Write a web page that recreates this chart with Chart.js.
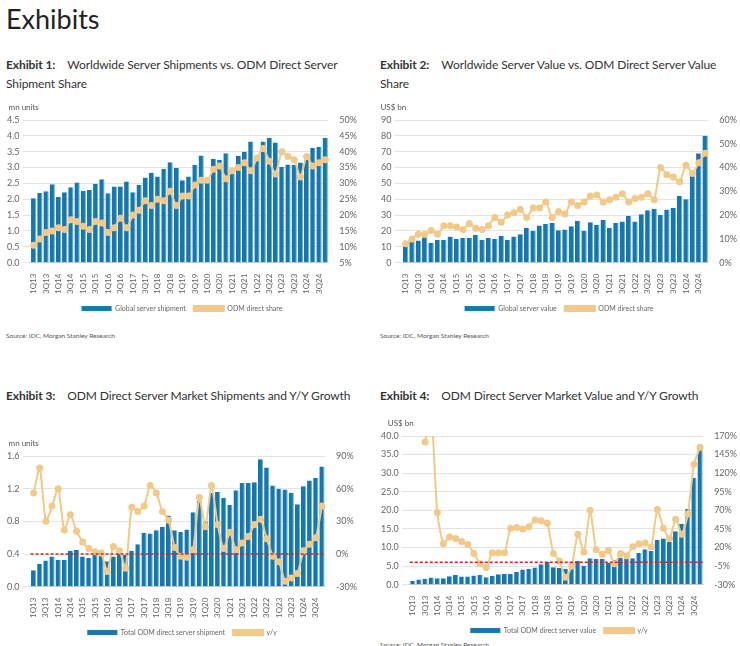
<!DOCTYPE html>
<html><head><meta charset="utf-8">
<script src="https://cdn.jsdelivr.net/npm/chart.js@4"></script>
<style>
body{margin:0;background:#fff;font-family:Lato,"Liberation Sans",sans-serif;width:740px;height:646px;position:relative;overflow:hidden}
h1{position:absolute;left:6px;top:2px;margin:0;font-weight:400;font-size:27px;color:#222}
.t{position:absolute;font-size:12px;color:#333;line-height:19px;letter-spacing:-0.1px}
.t b{margin-right:12px}
.s{position:absolute;font-size:6.5px;color:#555}
.c{position:absolute}
</style></head><body>
<h1>Exhibits</h1>
<div class="t" style="left:6px;top:55px;width:356px"><b>Exhibit 1:</b>Worldwide Server Shipments vs. ODM Direct Server Shipment Share</div>
<div class="t" style="left:380px;top:55px;width:358px"><b>Exhibit 2:</b>Worldwide Server Value vs. ODM Direct Server Value Share</div>
<div class="t" style="left:6px;top:386px;width:356px"><b>Exhibit 3:</b>ODM Direct Server Market Shipments and Y/Y Growth</div>
<div class="t" style="left:380px;top:386px;width:358px"><b>Exhibit 4:</b>ODM Direct Server Market Value and Y/Y Growth</div>
<div class="s" style="left:6px;top:332px">Source: IDC, Morgan Stanley Research</div>
<div class="s" style="left:380px;top:332px">Source: IDC, Morgan Stanley Research</div>
<div class="s" style="left:380px;top:641px">Source: IDC, Morgan Stanley Research</div>
<div class="c" style="left:4px;top:100px;width:356px;height:222px"><canvas id="c1"></canvas></div>
<div class="c" style="left:378px;top:100px;width:362px;height:222px"><canvas id="c2"></canvas></div>
<div class="c" style="left:4px;top:436px;width:356px;height:210px"><canvas id="c3"></canvas></div>
<div class="c" style="left:378px;top:416px;width:362px;height:228px"><canvas id="c4"></canvas></div>
<script>
const quarters=[];for(let y=13;y<=24;y++)for(let q=1;q<=4;q++)quarters.push(q+'Q'+y);
const shipments=[2.03,2.2,2.25,2.47,2.07,2.22,2.38,2.53,2.26,2.29,2.49,2.63,2.19,2.4,2.4,2.56,2.22,2.45,2.69,2.84,2.72,2.96,3.17,2.99,2.6,2.72,3.08,3.38,2.62,3.27,3.25,3.45,2.9,3.37,3.5,3.82,3.3,3.82,3.94,3.79,3.02,3.1,3.09,3.16,3.25,3.62,3.66,3.94];
const shipShare=[10.5,12.5,14.5,15,16,15.5,18.5,18,16.5,15.5,18,17.5,14.5,16,19,16,20,21.5,24.5,23,25,24.5,27.5,23,26,26,29.5,31,31,34.5,35.5,31.5,34,35,36.5,34,38,41,37,33,40,38.5,37.5,32,38.5,35.5,36.5,37.5];
const value=[11,13.5,14,16,12.5,14.5,14.5,16.5,15,15.5,15.5,17.5,14.5,15.5,15,17,14.5,16.5,18,22,20,23.5,24.5,25,20.5,21,23,26.5,20,25.5,24,27,22,25,26,29.5,26,30.5,33,34,30,33.5,34.5,42,40,55,69,80];
const valueShare=[8,10,12,12,13.5,12,15.5,15.5,15,14,16.5,14.5,14,15.5,19,17,20,21,22.5,19,23,23,25.5,19,21.5,20.5,25.5,24,25.5,28,28.5,25.5,26.5,27.5,29,25.5,27,27.5,29,26.5,40,37,36,34,41,37.5,42,46];
const odmShip=[0.2,0.28,0.32,0.37,0.33,0.33,0.44,0.45,0.37,0.35,0.42,0.45,0.31,0.37,0.41,0.39,0.44,0.52,0.66,0.65,0.69,0.73,0.87,0.69,0.67,0.7,0.91,1.05,0.8,1.15,1.16,1.09,1.0,1.18,1.27,1.27,1.28,1.56,1.46,1.24,1.2,1.19,1.15,1.01,1.23,1.3,1.33,1.47];
const odmShipYoY=[56,79,30,44,60,22,36,21,11,5,2,1,-16,7,3,-13,43,39,44,63,56,39,31,6,-2,-3,4,52,25,63,27,5,20,4,10,16,27,32,14,-2,-7,-25,-22,-18,3,9,15,44];
const odmValue=[1,1.4,1.6,1.9,1.7,1.7,2.3,2.6,2.2,2.2,2.5,2.6,2.0,2.4,2.8,2.9,2.9,3.5,4.1,4.2,4.6,5.5,6.2,4.7,4.5,4.3,6.0,6.4,5.1,7.1,6.9,7.0,5.8,6.7,7.3,6.9,7.1,8.5,9.5,9.1,12.0,12.4,11.5,14.4,16.4,20.4,28.8,36.5];
const odmValueYoY=[null,null,162,200,67,25,34,32,28,24,12,-2,-7,13,13,13,46,47,45,48,57,56,53,12,2,-20,-5,38,14,70,17,11,16,-2,12,9,21,25,26,21,71,46,32,58,38,65,132,155];

const BLUE='#1677ae',TAN='#f3c987',GRID='#e3e3e3',TXT='#666';
const zeroLine={id:'zl',afterDatasetsDraw(c){if(!c.options.plugins.zl||!c.options.plugins.zl.on)return;const y=c.scales.y1.getPixelForValue(0),a=c.chartArea,x=c.ctx;x.save();x.strokeStyle='#e02020';x.lineWidth=1.5;x.setLineDash([3,2]);x.beginPath();x.moveTo(a.left,y);x.lineTo(a.right,y);x.stroke();x.restore();}};
Chart.register(zeroLine);
Chart.defaults.font.family='Lato, "Liberation Sans", sans-serif';
Chart.defaults.color=TXT;
function mk(id,bars,barLbl,line,lineLbl,y,y1,unit,zl){
 new Chart(document.getElementById(id),{data:{labels:quarters,datasets:[
  {type:'line',label:lineLbl,data:line,yAxisID:'y1',borderColor:TAN,backgroundColor:TAN,borderWidth:2,pointRadius:2.5,tension:0.2,order:0},
  {type:'bar',label:barLbl,data:bars,yAxisID:'y',backgroundColor:BLUE,borderColor:'#5fb0e0',borderWidth:{left:0,right:1,top:0,bottom:0},categoryPercentage:1,barPercentage:0.85,order:1}]},
 options:{responsive:true,maintainAspectRatio:false,animation:false,
  layout:{padding:{top:20,right:0}},
  plugins:{zl:{on:zl},legend:{position:'bottom',reverse:true,labels:{font:{size:7},boxWidth:30,boxHeight:5,padding:8}},tooltip:{enabled:false}},
  scales:{x:{grid:{display:false},ticks:{font:{size:8},maxRotation:90,minRotation:90,autoSkip:false,callback:(v,i)=>i%2?'':quarters[i]}},
   y:{position:'left',min:y.min,max:y.max,grid:{color:GRID},border:{display:false},ticks:{font:{size:9},stepSize:y.step,callback:v=>v.toFixed(y.dec)}},
   y1:{position:'right',min:y1.min,max:y1.max,grid:{display:false},border:{display:false},ticks:{font:{size:9},stepSize:y1.step,callback:v=>v+'%'}}}},
 plugins:[{id:'u',afterDraw(c){const x=c.ctx;x.save();x.font='8px Lato, sans-serif';x.fillStyle='#555';x.fillText(unit,c.chartArea.left-22,7);x.restore();}}]});
}
mk('c1',shipments,'Global server shipment',shipShare,'ODM direct share',{min:0,max:4.5,step:0.5,dec:1},{min:5,max:50,step:5},'mn units',false);
mk('c2',value,'Global server value',valueShare,'ODM direct share',{min:0,max:90,step:10,dec:0},{min:0,max:60,step:10},'US$ bn',false);
mk('c3',odmShip,'Total ODM direct server shipment',odmShipYoY,'y/y',{min:0,max:1.6,step:0.4,dec:1},{min:-30,max:90,step:30},'mn units',true);
mk('c4',odmValue,'Total ODM direct server value',odmValueYoY,'y/y',{min:0,max:40,step:5,dec:1},{min:-30,max:170,step:25},'US$ bn',true);
</script></body></html>
